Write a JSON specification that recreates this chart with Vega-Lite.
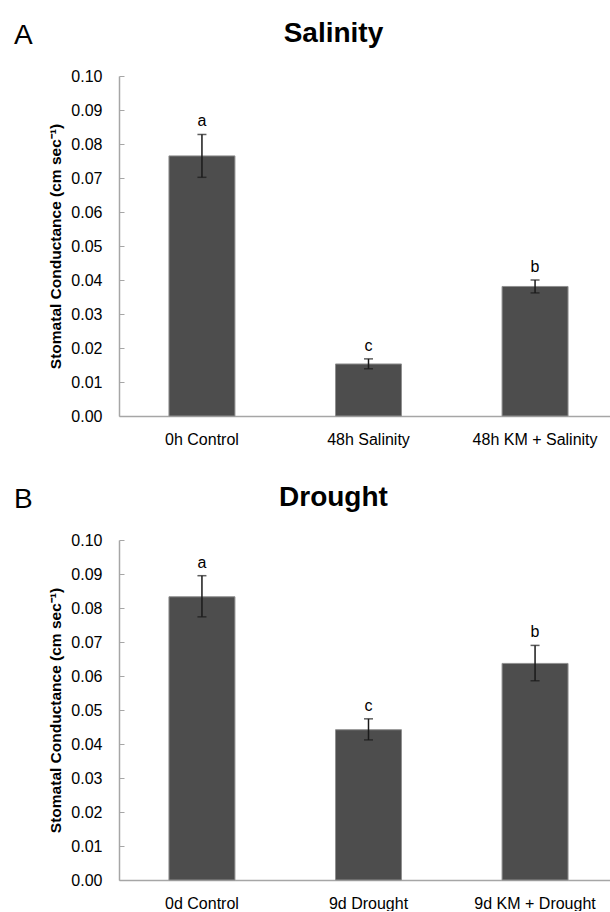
{
  "$schema": "https://vega.github.io/schema/vega-lite/v6.json",
  "padding": {"left": 14, "top": 20, "right": -8, "bottom": 0},
  "background": "white",
  "datasets": {
    "salinity": [
      {"treatment": "0h Control", "mean": 0.0765, "lo": 0.0702, "hi": 0.0828, "letter": "a"},
      {"treatment": "48h Salinity", "mean": 0.0153, "lo": 0.0139, "hi": 0.0168, "letter": "c"},
      {"treatment": "48h KM + Salinity", "mean": 0.0381, "lo": 0.0362, "hi": 0.0400, "letter": "b"}
    ],
    "drought": [
      {"treatment": "0d Control", "mean": 0.0833, "lo": 0.0774, "hi": 0.0895, "letter": "a"},
      {"treatment": "9d Drought", "mean": 0.0442, "lo": 0.0412, "hi": 0.0474, "letter": "c"},
      {"treatment": "9d KM + Drought", "mean": 0.0637, "lo": 0.0586, "hi": 0.0690, "letter": "b"}
    ]
  },
  "config": {
    "font": "Liberation Sans",
    "view": {"stroke": null},
    "axis": {"grid": false, "domainColor": "#a6a6a6", "tickColor": "#a6a6a6", "labelColor": "#000000", "titleColor": "#000000", "labelFont": "Liberation Sans", "titleFont": "Liberation Sans", "domainWidth": 1.5},
    "axisY": {"values": [0, 0.01, 0.02, 0.03, 0.04, 0.05, 0.06, 0.07, 0.08, 0.09, 0.1], "format": ".2f", "labelFontSize": 16, "tickSize": -5, "labelPadding": 22, "titleFontSize": 15.5, "titleFontWeight": "bold", "titlePadding": 7, "labelOverlap": false},
    "axisX": {"labelAngle": 0, "labelFontSize": 16, "ticks": false, "labelPadding": 15}
  },
  "spacing": 37,
  "vconcat": [
    {
      "title": {"text": "A", "anchor": "start", "frame": "group", "fontSize": 28, "fontWeight": "normal", "color": "#000000", "offset": -30, "dx": -105},
      "vconcat": [
        {
          "width": 491,
          "height": 340,
          "title": {"text": "Salinity", "fontSize": 28, "fontWeight": "bold", "color": "#000000", "anchor": "middle", "frame": "bounds", "offset": 20},
          "data": {"name": "salinity"},
          "encoding": {
            "x": {"field": "treatment", "type": "nominal", "sort": null, "title": null,
              "scale": {"range": [0, 499], "paddingInner": 0.604, "paddingOuter": 0.3}}
          },
          "layer": [
            {"mark": {"type": "bar", "color": "#4d4d4d", "stroke": "#8f8f8f", "strokeWidth": 1},
             "encoding": {"y": {"field": "mean", "type": "quantitative", "scale": {"domain": [0, 0.1]}, "title": "Stomatal Conductance (cm sec⁻¹)"}}},
            {"mark": {"type": "errorbar", "ticks": {"size": 9}, "color": "#1a1a1a", "thickness": 1.5},
             "encoding": {"y": {"field": "lo", "type": "quantitative", "title": "Stomatal Conductance (cm sec⁻¹)"}, "y2": {"field": "hi"}}},
            {"mark": {"type": "text", "dy": -5, "fontSize": 16, "baseline": "bottom", "color": "#000000"},
             "encoding": {"y": {"field": "hi", "type": "quantitative", "title": "Stomatal Conductance (cm sec⁻¹)"}, "text": {"field": "letter"}}}
          ]
        }
      ]
    },
    {
      "title": {"text": "B", "anchor": "start", "frame": "group", "fontSize": 28, "fontWeight": "normal", "color": "#000000", "offset": -30, "dx": -105},
      "vconcat": [
        {
          "width": 491,
          "height": 340,
          "title": {"text": "Drought", "fontSize": 28, "fontWeight": "bold", "color": "#000000", "anchor": "middle", "frame": "bounds", "offset": 20},
          "data": {"name": "drought"},
          "encoding": {
            "x": {"field": "treatment", "type": "nominal", "sort": null, "title": null,
              "scale": {"range": [0, 499], "paddingInner": 0.604, "paddingOuter": 0.3}}
          },
          "layer": [
            {"mark": {"type": "bar", "color": "#4d4d4d", "stroke": "#8f8f8f", "strokeWidth": 1},
             "encoding": {"y": {"field": "mean", "type": "quantitative", "scale": {"domain": [0, 0.1]}, "title": "Stomatal Conductance (cm sec⁻¹)"}}},
            {"mark": {"type": "errorbar", "ticks": {"size": 9}, "color": "#1a1a1a", "thickness": 1.5},
             "encoding": {"y": {"field": "lo", "type": "quantitative", "title": "Stomatal Conductance (cm sec⁻¹)"}, "y2": {"field": "hi"}}},
            {"mark": {"type": "text", "dy": -5, "fontSize": 16, "baseline": "bottom", "color": "#000000"},
             "encoding": {"y": {"field": "hi", "type": "quantitative", "title": "Stomatal Conductance (cm sec⁻¹)"}, "text": {"field": "letter"}}}
          ]
        }
      ]
    }
  ]
}
